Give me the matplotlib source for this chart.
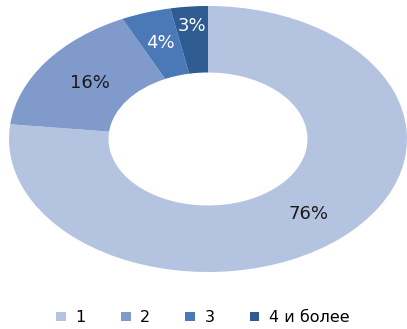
import matplotlib
matplotlib.use("Agg")
import matplotlib.pyplot as plt
import numpy as np
from matplotlib.patches import Patch

categories = ["1", "2", "3", "4 и более"]
shares = [76, 16, 4, 3]
colors = ["#B4C3DF", "#7F9ACB", "#4B79B8", "#2E5B91"]
label_colors = ["#1a1a1a", "#1a1a1a", "white", "white"]
label_radius = [0.76, 0.73, 0.76, 0.85]

fig = plt.figure(figsize=(4.07, 3.29), dpi=100)
ax = fig.add_axes([9 / 407, (329 - 272) / 329, 398 / 407, 266 / 329])

wedges, _ = ax.pie(shares, colors=colors, startangle=90, counterclock=False,
                   radius=1.0, wedgeprops=dict(width=0.5, edgecolor="none"))
ax.set_aspect("auto")
ax.set_xlim(-1, 1)
ax.set_ylim(-1, 1)
ax.axis("off")

for w, val, tc, r in zip(wedges, shares, label_colors, label_radius):
    ang = np.deg2rad((w.theta1 + w.theta2) / 2)
    ax.text(r * np.cos(ang), r * np.sin(ang), f"{val}%", ha="center", va="center",
            fontsize=13, color=tc, family="DejaVu Sans")

handles = [Patch(facecolor=c, edgecolor="none") for c in colors]
fig.legend(handles, categories, loc="center", bbox_to_anchor=(203 / 407, (329 - 318) / 329),
           ncol=4, frameon=False, fontsize=11.5, handlelength=0.6, handleheight=0.5,
           columnspacing=2.2, handletextpad=0.6)

fig.savefig("out.png", dpi=100)
